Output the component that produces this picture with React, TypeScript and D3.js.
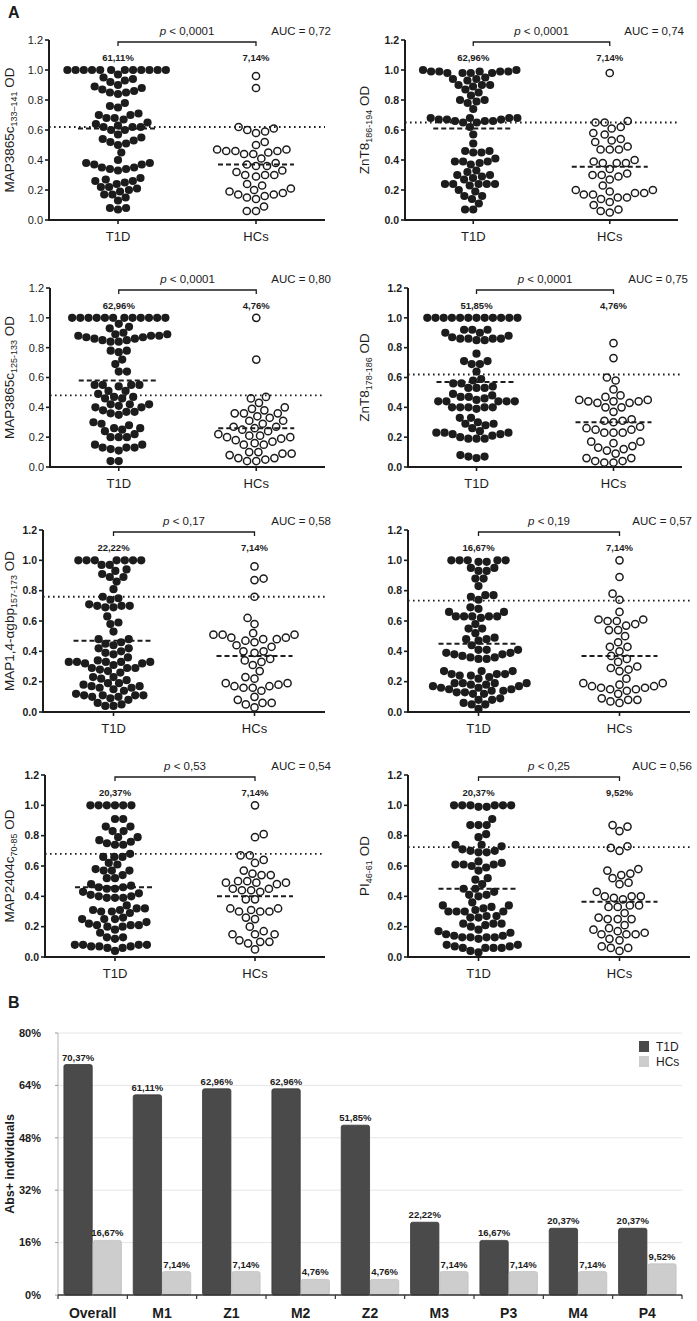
import React, { useMemo } from "react";
import * as d3 from "d3";

// ---------- Panel A data (OD values) ----------
const t1d1 = [1,1,1,1,1,1,1,1,1,1,1,1,0.97,0.95,0.94,0.93,0.92,0.90,0.89,0.88,0.87,0.86,0.85,0.85,0.84,0.78,0.76,0.75,0.71,0.70,0.70,0.68,0.68,0.67,0.65,0.64,0.63,0.62,0.62,0.62,0.60,0.60,0.57,0.55,0.54,0.53,0.52,0.51,0.50,0.45,0.40,0.38,0.38,0.37,0.37,0.35,0.35,0.34,0.34,0.33,0.28,0.27,0.26,0.26,0.25,0.24,0.22,0.22,0.21,0.20,0.19,0.17,0.17,0.15,0.13,0.08,0.08,0.07];
const hc1 = [0.96,0.88,0.62,0.61,0.60,0.59,0.58,0.52,0.50,0.47,0.47,0.46,0.46,0.46,0.45,0.44,0.44,0.41,0.38,0.37,0.36,0.36,0.33,0.32,0.30,0.30,0.30,0.29,0.24,0.23,0.21,0.20,0.19,0.18,0.17,0.17,0.16,0.15,0.14,0.09,0.06,0.06];
const t1d2 = [1.0,1.0,0.99,0.99,0.99,0.99,0.99,0.98,0.98,0.98,0.98,0.95,0.94,0.94,0.93,0.90,0.90,0.90,0.89,0.87,0.85,0.83,0.80,0.80,0.79,0.78,0.74,0.68,0.68,0.68,0.68,0.67,0.67,0.67,0.66,0.66,0.66,0.65,0.65,0.62,0.57,0.51,0.46,0.46,0.45,0.45,0.41,0.39,0.39,0.39,0.38,0.37,0.33,0.32,0.30,0.30,0.29,0.28,0.27,0.24,0.24,0.24,0.24,0.24,0.23,0.20,0.19,0.16,0.16,0.14,0.11,0.07,0.07];
const hc2 = [0.98,0.66,0.65,0.65,0.62,0.61,0.58,0.57,0.54,0.53,0.52,0.49,0.47,0.47,0.47,0.40,0.39,0.38,0.38,0.38,0.34,0.31,0.30,0.30,0.29,0.27,0.23,0.20,0.20,0.19,0.18,0.18,0.17,0.17,0.15,0.15,0.14,0.12,0.10,0.07,0.06,0.05];
const t1d3 = [1,1,1,1,1,1,1,1,1,1,1,1,0.96,0.94,0.93,0.90,0.89,0.89,0.88,0.88,0.87,0.87,0.86,0.86,0.85,0.85,0.84,0.84,0.88,0.78,0.78,0.77,0.72,0.69,0.64,0.64,0.55,0.55,0.55,0.55,0.54,0.51,0.51,0.49,0.47,0.47,0.46,0.46,0.42,0.42,0.42,0.41,0.40,0.40,0.38,0.37,0.37,0.36,0.35,0.30,0.29,0.28,0.26,0.26,0.25,0.24,0.22,0.20,0.20,0.20,0.15,0.15,0.13,0.13,0.13,0.12,0.11,0.04,0.04];
const hc3 = [1.0,0.72,0.47,0.46,0.43,0.40,0.39,0.38,0.36,0.36,0.36,0.34,0.33,0.31,0.31,0.29,0.27,0.27,0.26,0.25,0.24,0.22,0.21,0.21,0.20,0.20,0.19,0.18,0.17,0.16,0.15,0.15,0.10,0.10,0.09,0.09,0.08,0.06,0.06,0.05,0.04,0.04];
const t1d4 = [1,1,1,1,1,1,1,1,1,1,1,1,0.92,0.92,0.92,0.90,0.90,0.88,0.87,0.86,0.86,0.86,0.86,0.85,0.85,0.76,0.71,0.71,0.69,0.69,0.64,0.59,0.58,0.56,0.56,0.54,0.53,0.53,0.53,0.49,0.48,0.47,0.47,0.46,0.45,0.44,0.44,0.44,0.44,0.44,0.40,0.40,0.40,0.40,0.40,0.39,0.33,0.33,0.30,0.29,0.29,0.28,0.26,0.24,0.23,0.23,0.23,0.22,0.22,0.21,0.20,0.19,0.19,0.19,0.08,0.07,0.07,0.06];
const hc4 = [0.83,0.73,0.60,0.58,0.52,0.48,0.47,0.45,0.45,0.44,0.44,0.44,0.43,0.43,0.40,0.40,0.37,0.32,0.31,0.31,0.30,0.27,0.26,0.25,0.25,0.23,0.23,0.23,0.17,0.17,0.16,0.14,0.13,0.12,0.11,0.09,0.06,0.06,0.04,0.04,0.03,0.03];
const t1d5 = [1,1,1,1,1,1,1,0.97,0.97,0.94,0.93,0.91,0.89,0.89,0.86,0.81,0.76,0.75,0.74,0.71,0.70,0.70,0.70,0.69,0.69,0.63,0.59,0.58,0.53,0.48,0.48,0.46,0.45,0.44,0.42,0.42,0.40,0.39,0.38,0.36,0.34,0.33,0.33,0.33,0.33,0.33,0.32,0.32,0.31,0.29,0.29,0.29,0.28,0.27,0.26,0.23,0.23,0.22,0.21,0.19,0.19,0.18,0.17,0.17,0.16,0.16,0.15,0.14,0.12,0.11,0.11,0.11,0.11,0.10,0.10,0.09,0.08,0.06,0.05,0.04,0.04];
const hc5 = [0.96,0.88,0.87,0.76,0.62,0.58,0.52,0.51,0.51,0.51,0.49,0.49,0.48,0.48,0.47,0.46,0.44,0.43,0.40,0.40,0.39,0.35,0.34,0.33,0.31,0.27,0.23,0.22,0.19,0.19,0.18,0.17,0.17,0.16,0.16,0.14,0.10,0.08,0.06,0.06,0.05,0.03];
const t1d6 = [1,1,1,1,1,0.99,0.99,0.95,0.95,0.93,0.93,0.88,0.88,0.83,0.77,0.77,0.76,0.74,0.69,0.68,0.66,0.66,0.63,0.63,0.63,0.63,0.63,0.62,0.58,0.55,0.55,0.52,0.49,0.48,0.48,0.47,0.44,0.41,0.41,0.41,0.39,0.39,0.38,0.38,0.37,0.36,0.36,0.35,0.35,0.27,0.27,0.27,0.25,0.25,0.25,0.24,0.24,0.23,0.22,0.19,0.19,0.19,0.19,0.18,0.18,0.17,0.17,0.16,0.16,0.15,0.15,0.14,0.14,0.13,0.13,0.12,0.12,0.09,0.08,0.08,0.06,0.05,0.05,0.02];
const hc6 = [1.0,0.89,0.78,0.74,0.66,0.61,0.61,0.60,0.60,0.58,0.57,0.54,0.54,0.50,0.46,0.43,0.43,0.40,0.37,0.35,0.33,0.30,0.29,0.28,0.27,0.22,0.19,0.19,0.18,0.17,0.17,0.16,0.16,0.15,0.15,0.14,0.12,0.09,0.08,0.08,0.07,0.06];
const t1d7 = [1,1,1,1,1,1,0.91,0.91,0.86,0.86,0.83,0.83,0.79,0.79,0.77,0.76,0.75,0.74,0.74,0.68,0.66,0.66,0.66,0.62,0.61,0.58,0.57,0.57,0.57,0.54,0.52,0.52,0.48,0.47,0.46,0.46,0.45,0.45,0.43,0.42,0.41,0.40,0.40,0.39,0.39,0.39,0.34,0.32,0.32,0.31,0.31,0.30,0.30,0.29,0.26,0.25,0.25,0.25,0.23,0.22,0.21,0.21,0.21,0.20,0.20,0.18,0.16,0.13,0.13,0.12,0.08,0.08,0.08,0.08,0.07,0.07,0.07,0.06,0.06,0.04];
const hc7 = [1.0,0.81,0.79,0.67,0.67,0.64,0.62,0.57,0.55,0.54,0.54,0.50,0.50,0.49,0.49,0.49,0.48,0.45,0.45,0.44,0.44,0.43,0.38,0.38,0.32,0.32,0.31,0.30,0.30,0.30,0.26,0.25,0.20,0.17,0.15,0.15,0.15,0.11,0.10,0.10,0.09,0.05];
const t1d8 = [1,1,1,1,1,1,0.99,0.99,0.91,0.87,0.87,0.87,0.81,0.79,0.74,0.74,0.73,0.71,0.70,0.70,0.69,0.69,0.63,0.62,0.61,0.61,0.61,0.60,0.59,0.57,0.52,0.51,0.48,0.45,0.45,0.43,0.41,0.41,0.40,0.36,0.34,0.34,0.33,0.32,0.31,0.30,0.30,0.30,0.30,0.27,0.27,0.26,0.26,0.22,0.22,0.22,0.21,0.20,0.18,0.17,0.16,0.15,0.14,0.14,0.13,0.13,0.13,0.13,0.12,0.08,0.08,0.07,0.07,0.06,0.06,0.06,0.06,0.04,0.03];
const hc8 = [0.87,0.86,0.83,0.73,0.72,0.70,0.58,0.57,0.55,0.54,0.52,0.49,0.48,0.43,0.40,0.40,0.40,0.39,0.38,0.34,0.34,0.33,0.33,0.29,0.26,0.25,0.25,0.25,0.21,0.19,0.18,0.17,0.16,0.15,0.15,0.15,0.12,0.11,0.07,0.06,0.06,0.04];

const groups = ["T1D", "HCs"];
const titleMain = ["MAP3865c", "ZnT8", "MAP3865c", "ZnT8", "MAP1,4-αgbp", "", "MAP2404c", "PI"];
const titleSub = ["133–141", "186-194", "125-133", "178-186", "157-173", "", "70-85", "46-61"];
const pLabels = ["< 0,0001", "< 0,0001", "< 0,0001", "< 0,0001", "< 0,17", "< 0,19", "< 0,53", "< 0,25"];
const aucLabels = ["0,72", "0,74", "0,80", "0,75", "0,58", "0,57", "0,54", "0,56"];
const pctT1D = ["61,11%", "62,96%", "62,96%", "51,85%", "22,22%", "16,67%", "20,37%", "20,37%"];
const pctHC = ["7,14%", "7,14%", "4,76%", "4,76%", "7,14%", "7,14%", "7,14%", "9,52%"];
const cutoffs = [0.62, 0.65, 0.48, 0.62, 0.76, 0.735, 0.68, 0.725];
const medianT1D = [0.61, 0.61, 0.58, 0.57, 0.47, 0.45, 0.46, 0.45];
const medianHC = [0.37, 0.355, 0.26, 0.30, 0.37, 0.37, 0.40, 0.365];
const odTicks = [0, 0.2, 0.4, 0.6, 0.8, 1.0, 1.2];

// ---------- Panel B data ----------
const barCategories = ["Overall", "M1", "Z1", "M2", "Z2", "M3", "P3", "M4", "P4"];
const barT1D = [70.37, 61.11, 62.96, 62.96, 51.85, 22.22, 16.67, 20.37, 20.37];
const barHC = [16.67, 7.14, 7.14, 4.76, 4.76, 7.14, 7.14, 7.14, 9.52];
const barSeries = ["T1D", "HCs"];
const barTicks = [0, 16, 32, 48, 64, 80];

const panelT1D = [t1d1, t1d2, t1d3, t1d4, t1d5, t1d6, t1d7, t1d8];
const panelHC = [hc1, hc2, hc3, hc4, hc5, hc6, hc7, hc8];

// ---------- layout ----------
const FONT = "'Liberation Sans', Arial, sans-serif";
const NARROW = "'Liberation Sans Narrow', 'Arial Narrow', 'Liberation Sans', Arial, sans-serif";
const INK = "#1c1c1c";
const rowTop = [40, 288, 530, 775];
const rowBottom = [220, 467, 712, 957];
const leftAxisX = [49, 50, 43, 45];
const rightAxisX = [405, 408, 408, 408];
const leftEndX = [325, 325, 325, 325];
const rightEndX = [678, 682, 690, 690];

function swarm(values: number[], y: (v: number) => number, D: number) {
  const sorted = values.slice().sort((a, b) => a - b);
  const placed: { x: number; y: number; v: number }[] = [];
  let flip = 1;
  for (const v of sorted) {
    const py = y(v);
    const cands = [0];
    for (const q of placed) {
      const dy = py - q.y;
      if (Math.abs(dy) < D) {
        const off = Math.sqrt(D * D - dy * dy);
        cands.push(q.x + off, q.x - off);
      }
    }
    const f = flip;
    cands.sort((a, b) => {
      const d = Math.abs(a) - Math.abs(b);
      if (Math.abs(d) > 0.01) return d;
      return f * (b - a);
    });
    let chosen = 0;
    for (const c of cands) {
      let ok = true;
      for (const q of placed) {
        const dx = c - q.x, dy = py - q.y;
        if (dx * dx + dy * dy < D * D - 0.01) { ok = false; break; }
      }
      if (ok) { chosen = c; break; }
    }
    placed.push({ x: chosen, y: py, v });
    flip = -flip;
  }
  return placed;
}

function DotPanel({ i }: { i: number }) {
  const col = i % 2;
  const row = Math.floor(i / 2);
  const ax = col === 0 ? leftAxisX[row] : rightAxisX[row];
  const ex = col === 0 ? leftEndX[row] : rightEndX[row];
  const top = rowTop[row];
  const bot = rowBottom[row];
  const y = d3.scaleLinear().domain([0, 1.2]).range([bot, top]);
  const x = d3.scalePoint().domain(groups).range([ax, ex]).padding(0.5);
  const xa = x("T1D") as number;
  const xb = x("HCs") as number;
  const sA = useMemo(() => swarm(panelT1D[i], y, 8.2), [i]);
  const sB = useMemo(() => swarm(panelHC[i], y, 9.2), [i]);
  const boldTicks = !(i === 0 || i === 2);
  const fmt = d3.format(".1f");
  const titleX = col === 0 ? 14 : 369;
  const midY = (top + bot) / 2;
  return (
    <g>
      <line x1={ax} x2={ax} y1={bot} y2={top} stroke={INK} strokeWidth={2} />
      <line x1={ax - 1} x2={ex} y1={bot} y2={bot} stroke={INK} strokeWidth={2} />
      {odTicks.map((t) => (
        <g key={t}>
          <line x1={ax - 4} x2={ax} y1={y(t)} y2={y(t)} stroke={INK} strokeWidth={1.6} />
          <text x={ax - 6} y={y(t)} dy="0.35em" textAnchor="end" fontFamily={FONT}
            fontSize={boldTicks ? 10.5 : 11} fontWeight={boldTicks ? 700 : 400} fill={INK}>{fmt(t)}</text>
        </g>
      ))}
      {groups.map((g) => (
        <g key={g}>
          <line x1={x(g)} x2={x(g)} y1={bot} y2={bot + 4} stroke={INK} strokeWidth={1.6} />
          <text x={x(g)} y={bot + 21} textAnchor="middle" fontFamily={FONT} fontSize={13} fill={INK}>{g}</text>
        </g>
      ))}
      {titleMain[i] && (
        <text transform={`translate(${titleX},${midY}) rotate(-90)`} textAnchor="middle"
          fontFamily={FONT} fontSize={13.5} fill={INK}>
          {titleMain[i]}
          <tspan fontSize={9} dy={3}>{titleSub[i]}</tspan>
          <tspan dy={-3}>{" OD"}</tspan>
        </text>
      )}
      <path d={`M${xa},${top + 6}V${top + 2}H${xb}V${top + 6}`} fill="none" stroke={INK} strokeWidth={1.3} />
      <text x={(xa + xb) / 2} y={top - 5} textAnchor="middle" fontFamily={FONT} fontSize={11.5} fill={INK}>
        <tspan fontStyle="italic">p</tspan>{" " + pLabels[i]}
      </text>
      <text x={Math.min(ex + 6, 692)} y={top - 5} textAnchor="end" fontFamily={FONT} fontSize={11.5} fill={INK}>
        {"AUC = " + aucLabels[i]}
      </text>
      <text x={xa} y={top + 21} textAnchor="middle" fontFamily={FONT} fontSize={9.5} fontWeight={700} fill={INK}>{pctT1D[i]}</text>
      <text x={xb} y={top + 21} textAnchor="middle" fontFamily={FONT} fontSize={9.5} fontWeight={700} fill={INK}>{pctHC[i]}</text>
      {sA.map((p, k) => (
        <circle key={"a" + k} cx={xa + p.x} cy={p.y} r={4.1} fill={INK} />
      ))}
      {sB.map((p, k) => (
        <circle key={"b" + k} cx={xb + p.x} cy={p.y} r={3.6} fill="#fff" stroke={INK} strokeWidth={1.5} />
      ))}
      <line x1={ax} x2={ex} y1={y(cutoffs[i])} y2={y(cutoffs[i])} stroke={INK} strokeWidth={1.8}
        strokeDasharray="1.6,3.4" />
      <line x1={xa - 40} x2={xa + 40} y1={y(medianT1D[i])} y2={y(medianT1D[i])} stroke={INK} strokeWidth={2}
        strokeDasharray="5,3" />
      <line x1={xb - 38} x2={xb + 38} y1={y(medianHC[i])} y2={y(medianHC[i])} stroke={INK} strokeWidth={2}
        strokeDasharray="5,3" />
    </g>
  );
}

function BarPanel() {
  const x0 = 58, x1 = 682, yb = 1295, yt = 1033;
  const xb = d3.scaleBand().domain(barCategories).range([x0, x1]).paddingInner(0.17).paddingOuter(0.085);
  const xs = d3.scaleBand().domain(barSeries).range([0, xb.bandwidth()]).paddingInner(0.03);
  const y = d3.scaleLinear().domain([0, 80]).range([yb, yt]);
  const step = xb.step();
  const colors: Record<string, string> = { T1D: "#4a4a4a", HCs: "#cdcdcd" };
  const fmtPct = (v: number) => v.toFixed(2).replace(".", ",") + "%";
  return (
    <g>
      {barTicks.filter((t) => t > 0).map((t) => (
        <line key={t} x1={x0} x2={x1} y1={y(t)} y2={y(t)} stroke="#e6e6e6" strokeWidth={1} />
      ))}
      <line x1={x0} x2={x0} y1={yb} y2={yt} stroke="#b5b5b5" strokeWidth={1} />
      {barTicks.map((t) => (
        <g key={t}>
          <line x1={x0 - 3} x2={x0} y1={y(t)} y2={y(t)} stroke="#999" strokeWidth={1} />
          <text x={41} y={y(t)} dy="0.35em" textAnchor="end" fontFamily={NARROW} fontWeight={700}
            fontSize={11} fill={INK}>{t + "%"}</text>
        </g>
      ))}
      {barCategories.map((c, ci) => {
        const vals = [barT1D[ci], barHC[ci]];
        return (
          <g key={c}>
            {barSeries.map((s, si) => {
              const bx = (xb(c) as number) + (xs(s) as number);
              const bw = xs.bandwidth();
              const v = vals[si];
              return (
                <g key={s}>
                  <rect x={bx} y={y(v)} width={bw} height={yb - y(v)} rx={2} fill={colors[s]}
                    stroke={si === 0 ? "#3a3a3a" : "#c0c0c0"} strokeWidth={0.8} />
                  <text x={bx + bw / 2} y={y(v) - 4} textAnchor="middle" fontFamily={NARROW} fontWeight={700}
                    fontSize={9.5} fill={INK}>{fmtPct(v)}</text>
                </g>
              );
            })}
            <text x={(xb(c) as number) + xb.bandwidth() / 2} y={1318} textAnchor="middle" fontFamily={NARROW}
              fontWeight={700} fontSize={14} fill={INK}>{c}</text>
          </g>
        );
      })}
      <line x1={x0} x2={x1} y1={yb} y2={yb} stroke="#333" strokeWidth={1.5} />
      {d3.range(barCategories.length + 1).map((k) => (
        <line key={k} x1={x0 + k * step} x2={x0 + k * step} y1={yb} y2={yb + 4} stroke="#333" strokeWidth={1.2} />
      ))}
      <text transform={`translate(14,${(yb + yt) / 2}) rotate(-90)`} textAnchor="middle" fontFamily={FONT}
        fontWeight={700} fontSize={12.5} fill={INK}>Abs+ individuals</text>
      {barSeries.map((s, si) => (
        <g key={s}>
          <rect x={639} y={1041 + si * 15} width={10} height={11} fill={colors[s]} />
          <text x={656} y={1051 + si * 15} fontFamily={FONT} fontSize={12} fill={INK}>{s}</text>
        </g>
      ))}
    </g>
  );
}

export default function App() {
  return (
    <svg width={697} height={1321} viewBox="0 0 697 1321"
      style={{ position: "absolute", left: 0, top: 0, background: "#fff" }}>
      <rect width={697} height={1321} fill="#fff" />
      <text x={8} y={18} fontFamily={FONT} fontWeight={700} fontSize={16} fill={INK}>A</text>
      <text x={8} y={1008} fontFamily={FONT} fontWeight={700} fontSize={16} fill={INK}>B</text>
      {d3.range(8).map((i) => <DotPanel key={i} i={i} />)}
      <BarPanel />
    </svg>
  );
}
